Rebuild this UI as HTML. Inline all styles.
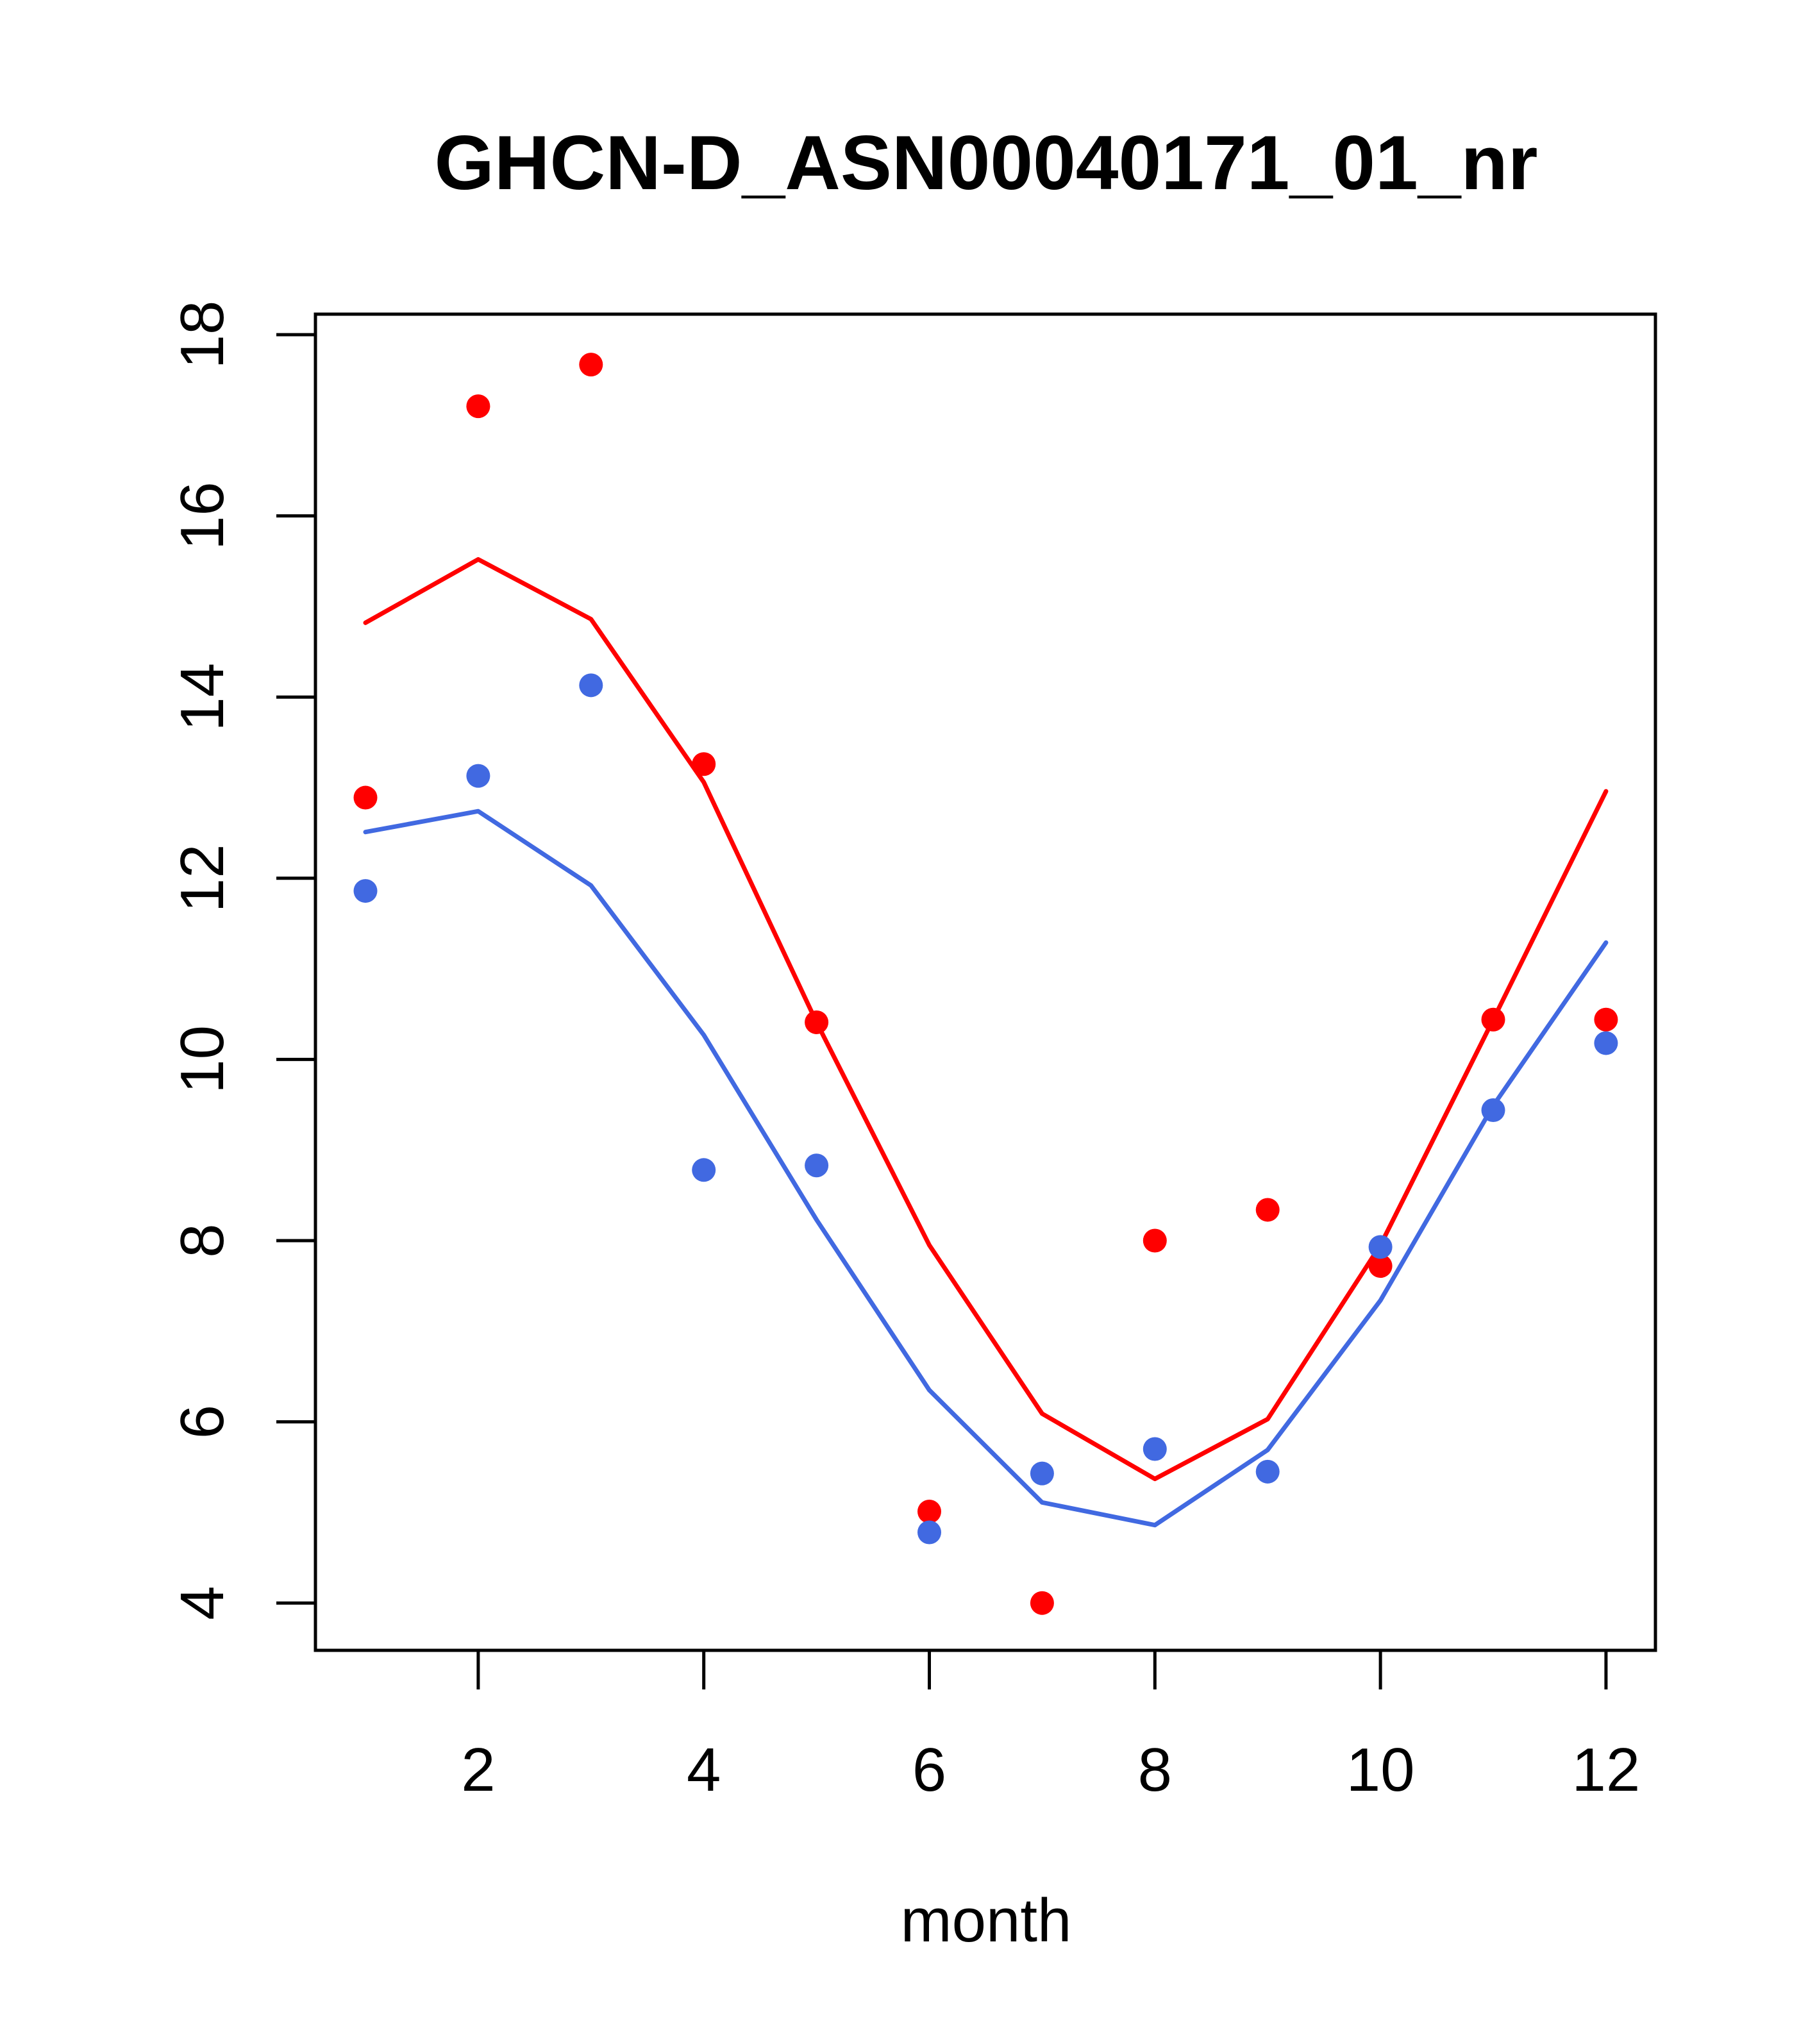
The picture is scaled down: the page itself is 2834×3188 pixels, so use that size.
<!DOCTYPE html>
<html><head><meta charset="utf-8"><style>
html,body{margin:0;padding:0;background:#fff;}
svg{display:block;font-family:"Liberation Sans",Arial,sans-serif;}
</style></head><body>
<svg id="chart" width="2834" height="3188" viewBox="0 0 2834 3188" xmlns="http://www.w3.org/2000/svg">
<rect width="2834" height="3188" fill="#fff"/>
<text x="1538" y="295" font-size="120" font-weight="bold" text-anchor="middle">GHCN-D_ASN00040171_01_nr</text>
<text x="1538" y="3028" font-size="96" text-anchor="middle">month</text>
<g id="axes"></g>
<g id="series"></g>
<rect x="492" y="490" width="2090" height="2084" fill="none" stroke="#000" stroke-width="5"/>
</svg>
<script>
const months=[1,2,3,4,5,6,7,8,9,10,11,12];
const redPoints=[12.89,17.21,17.67,13.26,10.41,5.01,4.0,8.0,8.34,7.72,10.44,10.44];
const bluePoints=[11.86,13.13,14.13,8.78,8.83,4.78,5.43,5.70,5.45,7.93,9.44,10.18];
const redLine=[14.82,15.52,14.86,13.06,10.41,7.95,6.09,5.37,6.03,7.95,10.44,12.96];
const blueLine=[12.51,12.74,11.92,10.27,8.23,6.35,5.11,4.86,5.69,7.34,9.49,11.29];
const xTicks=[2,4,6,8,10,12];
const yTicks=[4,6,8,10,12,14,16,18];

const NS="http://www.w3.org/2000/svg";
function X(m){return 570+(m-1)*175.9;}
function Y(v){return 522+(18-v)*141.3;}
function mk(tag,attrs,parent){const e=document.createElementNS(NS,tag);for(const k in attrs)e.setAttribute(k,attrs[k]);parent.appendChild(e);return e;}
const axes=document.getElementById('axes'),series=document.getElementById('series');

xTicks.forEach(t=>{
  const l=mk('line',{x1:X(t),x2:X(t),y1:2574,y2:2635,stroke:'#000','stroke-width':5},axes);
  
  
  const tx=mk('text',{x:X(t),y:2793,'font-size':96,'text-anchor':'middle'},axes);
  tx.textContent=t;
  
  
});
yTicks.forEach(t=>{
  const l=mk('line',{x1:431,x2:492,y1:Y(t),y2:Y(t),stroke:'#000','stroke-width':5},axes);
  
  
  const tx=mk('text',{x:0,y:0,'font-size':96,'text-anchor':'middle',transform:`translate(348,${Y(t)}) rotate(-90)`},axes);
  tx.textContent=t;
  
  
});

function line(vals,color,name){
  const p=mk('polyline',{points:vals.map((v,i)=>X(months[i])+','+Y(v)).join(' '),fill:'none',stroke:color,'stroke-width':7,'stroke-linejoin':'round','stroke-linecap':'round'},series);
  
  
}
function pts(vals,color,name){
  vals.forEach((v,i)=>{
    const c=mk('circle',{cx:X(months[i]),cy:Y(v),r:18.5,fill:color},series);
    
    
  });
}
line(redLine,'#ff0000','red-line');
line(blueLine,'#4169e1','blue-line');
pts(redPoints,'#ff0000','red-point');
pts(bluePoints,'#4169e1','blue-point');
</script>
</body></html>
